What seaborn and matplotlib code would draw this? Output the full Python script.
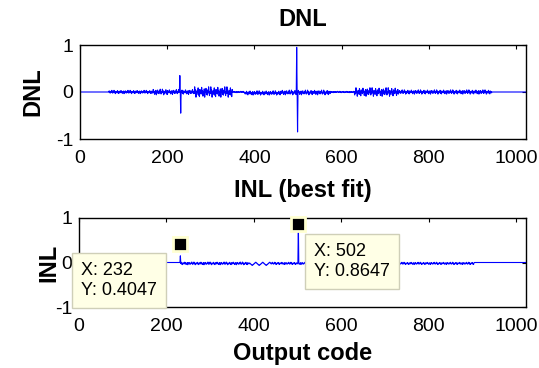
import numpy as np
import pandas as pd
import matplotlib
matplotlib.use("Agg")
import matplotlib.pyplot as plt
import seaborn as sns

# codici di uscita dell'ADC a 10 bit
n_codici = 1024

# DNL: tratti con ampiezza del rumore (inizio tratto, ampiezza, offset)
dnl_inizio = [0, 66, 166, 204, 262, 350, 378, 460, 575, 630, 730, 945]
dnl_ampiezza = [0.0, 0.035, 0.06, 0.05, 0.11, 0.015, 0.045, 0.05, 0.015, 0.09, 0.045, 0.0]
dnl_offset = [0.0, 0.0, 0.0, 0.0, 0.0, 0.0, -0.02, -0.01, 0.0, 0.0, 0.0, 0.0]
# picchi della DNL (codice, valore)
dnl_picchi_codice = [229, 231, 497, 499]
dnl_picchi_valore = [0.35, -0.45, 0.95, -0.85]

# INL (best fit): tratti e picchi
inl_inizio = [0, 232, 390, 440, 905]
inl_ampiezza = [0.0, 0.03, 0.035, 0.025, 0.0]
inl_offset = [0.0, -0.02, -0.03, -0.02, 0.0]
inl_picchi_codice = [232, 502]
inl_picchi_valore = [0.15, 0.8647]

# forma del rumore, scritta a mano
motivo = [0.2, -0.7, 0.1, -0.3, 1.0, -0.2, 0.4, -1.0, 0.1, -0.5,
          0.3, -0.1, 0.8, -0.6, 0.0, -0.9, 0.5, -0.2, 0.2, -0.4,
          0.9, -0.1, 0.3, -0.8, 0.1, -0.3, 0.6, -1.0, 0.2, -0.1,
          0.7, -0.5, 0.0, -0.6, 0.4, -0.2, 1.0]
motivo_lento = [0.0, 0.5, 1.0, 0.5, 0.0, -0.5, -1.0, -0.5]

# datatip (X, Y) visibili sul grafico INL
tip_x = [232, 502]
tip_y = [0.4047, 0.8647]


def costruisci_serie(inizi, ampiezze, offset, picchi_c, picchi_v, lento_da=None):
    y = np.zeros(n_codici)
    confini = inizi + [n_codici]
    for k in range(len(inizi)):
        for c in range(confini[k], confini[k + 1]):
            if lento_da is not None and confini[k] == lento_da:
                m = motivo_lento[(c // 2) % len(motivo_lento)]
            else:
                m = motivo[c % len(motivo)]
            y[c] = ampiezze[k] * m + offset[k]
    for c, v in zip(picchi_c, picchi_v):
        y[c] = v
    return y


dnl = costruisci_serie(dnl_inizio, dnl_ampiezza, dnl_offset, dnl_picchi_codice, dnl_picchi_valore)
inl = costruisci_serie(inl_inizio, inl_ampiezza, inl_offset, inl_picchi_codice, inl_picchi_valore, lento_da=390)
df = pd.DataFrame({"codice": np.arange(n_codici), "dnl": dnl, "inl": inl})

sns.set_style("white")
plt.rcParams["font.family"] = ["Liberation Sans", "DejaVu Sans"]
plt.rcParams["text.color"] = "black"
plt.rcParams["axes.labelcolor"] = "black"
plt.rcParams["axes.unicode_minus"] = False

fig = plt.figure(figsize=(5.39, 3.68), dpi=100)
W, H = 539, 368
ax1 = fig.add_axes([80 / W, (H - 139) / H, 446 / W, 94 / H])
ax2 = fig.add_axes([79 / W, (H - 307) / H, 447 / W, 89 / H])

for ax, col in [(ax1, "dnl"), (ax2, "inl")]:
    sns.lineplot(data=df, x="codice", y=col, ax=ax, color="#0000FF", linewidth=0.8)
    ax.set_xlim(0, 1023)
    ax.set_ylim(-1, 1)
    ax.set_xticks([0, 200, 400, 600, 800, 1000])
    ax.set_yticks([-1, 0, 1])
    ax.tick_params(direction="in", top=True, right=True, length=3, width=0.8,
                   labelsize=14, pad=5, colors="black")
    ax.tick_params(axis="x", pad=8)
    for s in ax.spines.values():
        s.set_linewidth(1.0)
        s.set_color("black")

ax1.set_title("DNL", fontsize=17, fontweight="bold", pad=14, color="black")
ax1.set_xlabel("")
ax1.set_ylabel("DNL", fontsize=17, fontweight="bold", labelpad=8)

ax2.set_title("INL (best fit)", fontsize=17, fontweight="bold", pad=15, color="black")
ax2.set_xlabel("Output code", fontsize=17, fontweight="bold", labelpad=5)
ax2.set_ylabel("INL", fontsize=17, fontweight="bold", labelpad=-4)

# datatip alla maniera di MATLAB
box = dict(boxstyle="square,pad=0.5", fc="#FFFFE6", ec="#CFCFB8", lw=1)
ax2.plot(tip_x, tip_y, linestyle="none", marker="s", ms=10.5, color="black",
         mec="#FFFFD0", mew=2, zorder=5, clip_on=False)
ax2.text(5, -0.41, f"X: {tip_x[0]}\nY: {tip_y[0]}", fontsize=13, ha="left", va="center",
         bbox=box, zorder=6, clip_on=False)
ax2.text(537, 0.02, f"X: {tip_x[1]}\nY: {tip_y[1]}", fontsize=13, ha="left", va="center",
         bbox=box, zorder=6, clip_on=False)

fig.savefig("out.png", dpi=100)
